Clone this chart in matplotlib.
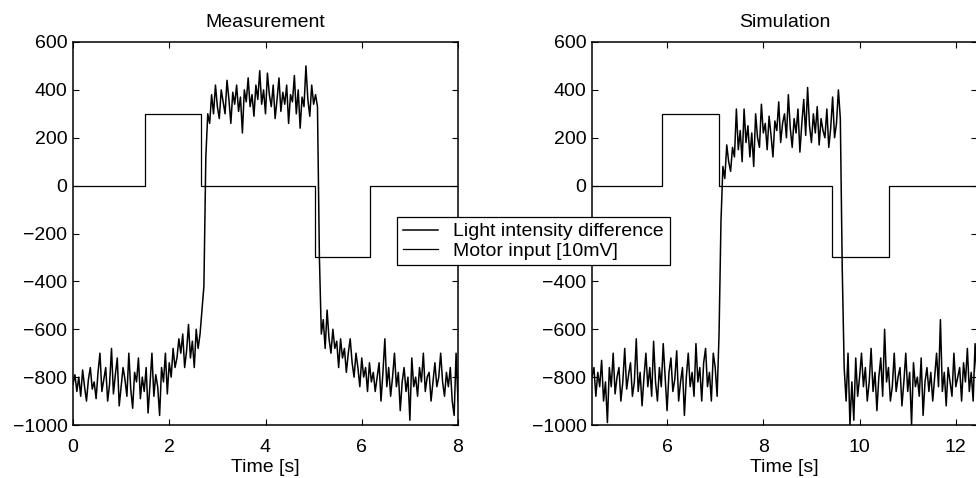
import numpy as np
import matplotlib.pyplot as plt

plt.rcParams['font.family'] = ['Liberation Sans', 'DejaVu Sans']

DT = 0.04  # sample spacing of the read-off traces [s]

# ---- Measurement: light intensity difference, three pieces ----
meas_pre_t0 = 0.0
meas_pre = [
    -830, -790, -860, -800, -880, -770, -840, -900, -810, -760,
    -850, -820, -890, -780, -700, -860, -810, -760, -900, -830,
    -680, -870, -790, -720, -920, -840, -760, -810, -880, -700,
    -850, -930, -780, -820, -720, -890, -800, -860, -760, -950,
    -830, -700, -880, -790, -840, -960, -760, -820, -700, -870,
    -740, -800, -680, -760, -720, -640, -700, -620, -760, -690,
    -580, -720, -650, -760, -600, -680, -620]
meas_on_t0 = 2.72
meas_on = [
    -420, 120, 300, 260, 380, 300, 420, 330, 280, 400,
    350, 300, 440, 360, 260, 390, 340, 420, 310, 370,
    220, 400, 350, 450, 330, 380, 290, 420, 360, 480,
    340, 400, 300, 470, 380, 330, 420, 280, 360, 450,
    310, 390, 340, 420, 260, 380, 350, 460, 300, 400,
    240, 370, 330, 500, 360, 290, 420, 340, 380, 330]
meas_post_t0 = 5.12
meas_post = [
    -300, -620, -560, -680, -520, -640, -700, -600, -680, -650,
    -760, -640, -720, -680, -780, -700, -640, -740, -800, -700,
    -760, -840, -720, -800, -760, -860, -740, -820, -780, -860,
    -800, -740, -900, -780, -640, -840, -760, -880, -800, -700,
    -840, -780, -940, -820, -760, -860, -800, -980, -720, -840,
    -800, -880, -760, -820, -700, -860, -800, -780, -900, -820,
    -740, -840, -800, -700, -820, -880, -780, -840, -760, -900,
    -960, -700, -900]

# ---- Simulation: light intensity difference ----
sim_pre_t0 = 4.44
sim_pre = [
    -800, -760, -880, -780, -840, -730, -900, -820, -990, -760,
    -840, -700, -870, -800, -760, -900, -820, -680, -850, -790,
    -740, -880, -820, -640, -860, -780, -920, -800, -700, -840,
    -760, -880, -650, -820, -900, -760, -840, -660, -800, -940,
    -780, -720, -860, -810, -690, -900, -820, -760, -960, -800,
    -700, -840, -780, -880, -660, -820, -760, -900, -740, -680,
    -840, -780, -900, -700, -760, -880]
sim_on_t0 = 7.08
sim_on = [
    -620, -150, 80, 30, 170, 100, 60, 160, 120, 320,
    150, 230, 100, 320, 180, 250, 120, 220, 80, 300,
    200, 160, 340, 220, 260, 150, 290, 210, 120, 270,
    230, 350, 180, 260, 300, 200, 380, 240, 160, 280,
    220, 320, 140, 260, 360, 210, 410, 250, 180, 300,
    220, 330, 170, 280, 230, 200, 320, 160, 240, 370,
    200, 260, 400, 280]
sim_post_t0 = 9.64
sim_post = [
    -350, -760, -900, -700, -1000, -820, -980, -720, -880, -800,
    -700, -840, -760, -900, -820, -680, -860, -780, -940, -800,
    -720, -880, -600, -820, -760, -900, -840, -700, -860, -800,
    -760, -920, -820, -700, -860, -780, -1000, -740, -840, -800,
    -880, -720, -960, -820, -760, -860, -780, -900, -800, -700,
    -840, -560, -860, -780, -920, -760, -820, -880, -700, -840,
    -800, -760, -900, -740, -820, -680, -860, -780, -900, -660,
    -800]

# ---- Motor input [10mV] step edges ----
meas_motor_t = [0.0, 1.50, 2.67, 5.02, 6.17, 8.0]
meas_motor_v = [0, 300, 0, -300, 0, 0]
sim_motor_t = [4.44, 5.89, 7.07, 9.43, 10.61, 12.44]
sim_motor_v = [0, 300, 0, -300, 0, 0]

titles = ["Measurement", "Simulation"]
xlims = [(0, 8), (4.44, 12.44)]
xticks = [[0, 2, 4, 6, 8], [6, 8, 10, 12]]
yticks = [-1000, -800, -600, -400, -200, 0, 200, 400, 600]


def build_trace(pieces):
    t_all, v_all = [], []
    for t0, vals in pieces:
        t_all.append(t0 + DT * np.arange(len(vals)))
        v_all.append(np.asarray(vals, dtype=float))
    return np.concatenate(t_all), np.concatenate(v_all)


traces = [
    build_trace([(meas_pre_t0, meas_pre), (meas_on_t0, meas_on), (meas_post_t0, meas_post)]),
    build_trace([(sim_pre_t0, sim_pre), (sim_on_t0, sim_on), (sim_post_t0, sim_post)]),
]
motors = [(meas_motor_t, meas_motor_v), (sim_motor_t, sim_motor_v)]

W, H = 976, 478
fig = plt.figure(figsize=(W / 100, H / 100), dpi=100)
axes = [fig.add_axes([73 / W, 53 / H, 385 / W, 383 / H]),
        fig.add_axes([592 / W, 53 / H, 385 / W, 383 / H])]

FS = 14
for i, ax in enumerate(axes):
    t, v = traces[i]
    l1, = ax.plot(t, v, color='black', lw=1.1)
    mt, mv = motors[i]
    l2, = ax.plot(mt, mv, color='black', lw=0.9, drawstyle='steps-post')
    ax.set_xlim(*xlims[i])
    ax.set_ylim(-1000, 600)
    ax.set_xticks(xticks[i])
    ax.set_yticks(yticks)
    labels = [str(y).replace('-', '\u2212') for y in yticks]
    if i == 1:
        labels[yticks.index(-200)] = ''  # sits under the legend box
    ax.set_yticklabels(labels)
    ax.tick_params(direction='in', top=True, right=True, length=4,
                   labelsize=FS)
    ax.tick_params(axis='x', pad=10)
    ax.tick_params(axis='y', pad=4)
    for s in ax.spines.values():
        s.set_linewidth(1.1)
    ax.set_title(titles[i], fontsize=FS, pad=11)
    ax.set_xlabel("Time [s]", fontsize=FS, labelpad=2)

leg = fig.legend([l1, l2], ["Light intensity difference", "Motor input [10mV]"],
                 loc='upper left', bbox_to_anchor=(397 / W, 1 - 217 / H),
                 fontsize=FS, frameon=True, fancybox=False, framealpha=1,
                 edgecolor='black', borderpad=0.3, handlelength=1.8,
                 handletextpad=0.8, labelspacing=0.08, borderaxespad=0)
leg.get_frame().set_linewidth(0.9)
leg.set_zorder(10)

fig.savefig("out.png", dpi=100)
